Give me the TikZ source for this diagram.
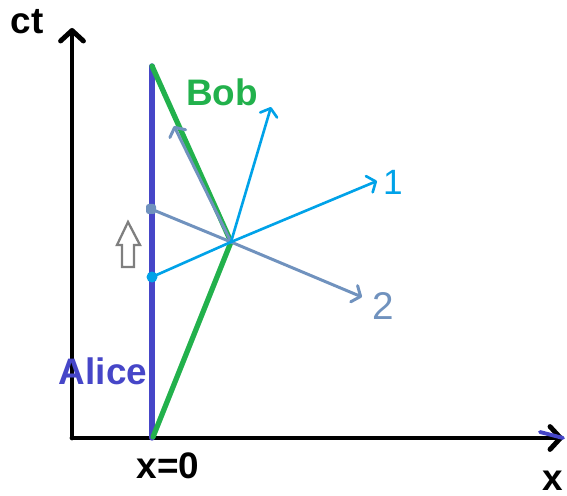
\documentclass[tikz,border=0pt]{standalone}
\usepackage{fontspec}
\setmainfont{Liberation Sans}
\usetikzlibrary{arrows.meta,calc}
\definecolor{Blue}{HTML}{4646C8}
\definecolor{Green}{HTML}{22B14C}
\definecolor{Sky}{HTML}{00A2E8}
\definecolor{Slate}{HTML}{7092BE}
\definecolor{Grey}{HTML}{7F7F7F}

\begin{document}
\begin{tikzpicture}[x=0.02cm,y=-0.02cm,
      axis/.style={black,line width=2.8pt,line cap=round,
        -{Straight Barb[length=6pt,width=13pt,round]}},
      alice/.style={Blue,line width=3pt,line cap=round},
      bob/.style={Green,line width=3pt,line cap=round,line join=round},
      prime/.style={Sky,line width=1.5pt,line cap=round},
      second/.style={Slate,line width=1.7pt,line cap=round},
      tip/.style={-{Straight Barb[length=4pt,width=10pt,round]}},
      lbl/.style={font=\fontsize{21}{24}\selectfont\bfseries,inner sep=0pt}
    ]
      \useasboundingbox (0,0) rectangle (567,496);
      \coordinate (o) at (72,438);
      \coordinate (ytip) at (72,28);
      \coordinate (xtip) at (563,438);
      \coordinate (a0) at (152,438);
      \coordinate (a1) at (152,66);
      \coordinate (p) at (231,242);
      \coordinate (b0) at (153,437);
      \coordinate (b1) at (152,66);
      \coordinate (one) at (377,181);
      \coordinate (up) at (271,107);
      \coordinate (two) at (362,297);
      \coordinate (back) at (174,126);
      \coordinate (sq) at (151,209);
      \coordinate (dot) at (152,277);
      \coordinate (mark) at (540,432);
      \draw[axis] (o)--(ytip);
      \draw[axis] (o)--(xtip);
      \draw[alice,line width=2.2pt] (mark)--(xtip);
      \draw[alice] (a0)--(a1);
      \draw[bob] (b0)--(p)--(b1);
      \draw[second] (sq)--(p);
      \draw[second,tip] (p)--(two);
      \draw[second,tip] (p)--(back);
      \draw[prime] (dot)--(p);
      \draw[prime,tip] (p)--(one);
      \draw[prime,tip] (p)--(up);
      \fill[Slate,rounded corners=1.5pt] ($(sq)+(-5,-5)$) rectangle ($(sq)+(5,5)$);
      \fill[Sky] (dot) circle (5.5);
      \draw[Grey,line width=1.3pt,line join=miter]
        (128,222)--(140,245)--(134,245)--(134,267)--(122,267)--(122,245)--(117,245)--cycle;
      \node[lbl] (ct) at (27,22) {ct};
      \node[lbl,Green] (bobname) at (222,92) {Bob};
      \node[lbl,Blue] (alicename) at (103,371) {Alice};
      \node[lbl] (origin) at (168,466) {x=0};
      \node[lbl] (xname) at (553,481) {x};
      \node[Sky,font=\fontsize{20}{24}\selectfont] (onename) at (393,182) {1};
      \node[Slate,font=\fontsize{22}{24}\selectfont] (twoname) at (383,306) {2};
    \end{tikzpicture}
\end{document}
